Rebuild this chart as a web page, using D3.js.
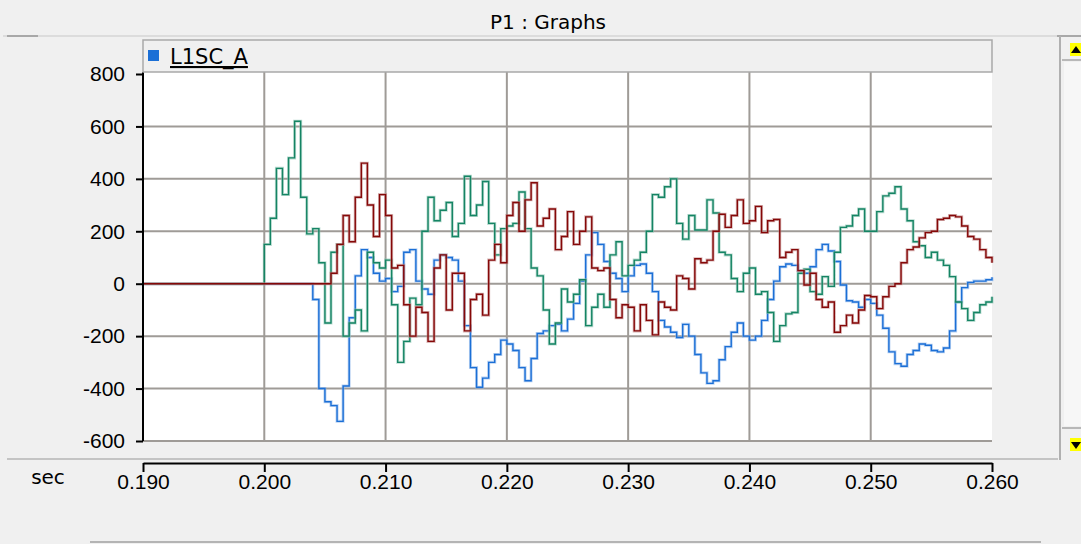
<!DOCTYPE html>
<html>
<head>
<meta charset="utf-8">
<script src="https://cdn.jsdelivr.net/npm/d3@7"></script>
<style>
  body { margin: 0; background: #f0f0f0; }
  svg { display: block; font-family: "DejaVu Sans", sans-serif; }
  .axis text { font-size: 21px; fill: #000; }
  .axis path, .axis line { stroke: #000; stroke-width: 2; }
</style>
</head>
<body>
<svg id="chart" width="1081" height="544"></svg>
<script>
// sample grid of the recorded waveforms (sec)
const flatStart = 0.190;
const t0 = 0.200, dt = 0.0005;

const xTicks = [0.190, 0.200, 0.210, 0.220, 0.230, 0.240, 0.250, 0.260];
const yTicks = [800, 600, 400, 200, 0, -200, -400, -600];
const legendLabel = "L1SC_A";

// blue trace (L1SC_A)
const phaseA = [0, 0, 0, 0, 0, 0, 0, 0,
  -60, -400, -450, -465, -525, -390, -130, 30, 130, 100, 40, 10,
  20, -30, -10, 120, 130, 10, -20, -40, 90, 110,
  100, 90, 10, -160, -320, -395, -360, -300, -270, -215,
  -230, -255, -320, -370, -285, -190, -180, -160, -155, -180,
  -135, -75, 10, 110, 195, 150, 85, 40, 20, -30,
  30, 70, 75, 40, -30, -140, -165, -185, -205, -155,
  -200, -270, -340, -380, -370, -290, -240, -185, -150, -200,
  -215, -200, -140, -60, 10, 65, 75, 70, 50, 40,
  65, 130, 150, 125, 85, -5, -65, -70, -90, -60,
  -75, -120, -170, -260, -305, -315, -270, -255, -230, -235,
  -255, -260, -245, -180, -70, -15, 5, 10, 10, 15, 25];

// green trace
const phaseB = [150, 250, 440, 340, 480, 620, 330, 190, 210, 80,
  -150, 120, 150, -200, -150, -100, -180, 120, 80, 60,
  90, -80, -300, -220, -55, -80, 200, 330, 240, 280,
  310, 180, 230, 410, 260, 300, 390, 230, 110, 210,
  220, 230, 350, 210, 60, 30, -100, -230, -150, -20,
  -70, -40, 15, -160, -90, -40, -90, 110, 160, 30,
  70, 90, 120, 200, 340, 330, 370, 400, 230, 170,
  260, 205, 205, 320, 270, 120, 110, 20, -30, 40,
  60, -40, -30, -110, -220, -160, -115, -110, 40, 55,
  -30, -40, 27, -10, 120, 215, 220, 260, 285, 200,
  200, 275, 335, 345, 370, 285, 240, 160, 145, 100,
  120, 90, 70, 27, -70, -95, -140, -110, -80, -70, -50];

// red trace
const phaseC = [0, 0, 0, 0, 0, 0, 0, 0, 0, 0, 0, 40,
  150, 260, 160, 330, 460, 300, 180, 340,
  260, 60, 70, -80, -200, -90, -110, -220, 60, 110,
  -100, 40, 40, -180, -60, -40, -120, 90, 150, 80,
  260, 310, 200, 320, 385, 220, 250, 285, 130, 180,
  275, 150, 200, 255, 60, 50, 60, -60, -130, -80,
  -90, -180, -80, -140, -195, -70, -90, -100, 30, 20,
  -20, 95, 80, 90, 200, 265, 215, 260, 320, 230,
  240, 295, 195, 240, 245, 100, 120, 130, 50, -5,
  40, -60, -90, -70, -185, -160, -120, -150, -100, -45,
  -50, -95, -50, -10, 0, 80, 130, 140, 175, 195,
  200, 245, 250, 260, 255, 220, 180, 170, 130, 100, 80];

var svg = d3.select("#chart");

var xScale = d3.scaleLinear().domain([0.190, 0.260]).range([143, 992]),
    yScale = d3.scaleLinear().domain([800, -600]).range([74, 441]);

drawFrame();
drawGrid();
drawSeries(phaseA, "#1b6fd6", "#8db6ea");
drawSeries(phaseB, "#158464", "#8cc4b2");
drawSeries(phaseC, "#850808", "#c08686");
drawYAxis();
drawXAxis();
drawLegend();
drawScrollbar();

function toPoints(values) {
    var pts = [{t: flatStart, v: 0}];
    values.forEach(function(v, i) { pts.push({t: t0 + i * dt, v: v}); });
    return pts;
}

function drawFrame() {
    // title bar
    svg.append("text")
        .attr("x", 548).attr("y", 29)
        .attr("text-anchor", "middle")
        .style("font-size", "20px")
        .text("P1 : Graphs");
    svg.append("line").attr("x1", 3).attr("x2", 1081).attr("y1", 36).attr("y2", 36)
        .style("stroke", "#dcdcdc").style("stroke-width", 2);
    svg.append("line").attr("x1", 7).attr("x2", 38).attr("y1", 36).attr("y2", 36)
        .style("stroke", "#a8a8a8").style("stroke-width", 2);
    svg.append("line").attr("x1", 1057).attr("x2", 1081).attr("y1", 36).attr("y2", 36)
        .style("stroke", "#a8a8a8").style("stroke-width", 2);

    // plot area
    svg.append("rect")
        .attr("x", xScale(0.190)).attr("y", 72)
        .attr("width", xScale(0.260) - xScale(0.190))
        .attr("height", yScale(-600) - 72)
        .style("fill", "#fff");

    // separators below the plot
    svg.append("line").attr("x1", 7).attr("x2", 1058).attr("y1", 459).attr("y2", 459)
        .style("stroke", "#c4c4c4").style("stroke-width", 2);
    svg.append("line").attr("x1", 90).attr("x2", 1041).attr("y1", 542).attr("y2", 542)
        .style("stroke", "#b4b4b4").style("stroke-width", 2);
}

function drawGrid() {
    var g = svg.append("g").attr("class", "grid");
    g.selectAll(".hgrid")
        .data(yTicks.filter(d => d < 800))
        .enter().append("line")
        .attr("class", "hgrid")
        .attr("x1", xScale(0.190)).attr("x2", xScale(0.260))
        .attr("y1", d => yScale(d)).attr("y2", d => yScale(d))
        .style("stroke", "#9f9b97").style("stroke-width", 2);
    g.selectAll(".vgrid")
        .data(xTicks.filter(d => d > 0.1905 && d < 0.2595))
        .enter().append("line")
        .attr("class", "vgrid")
        .attr("x1", d => xScale(d)).attr("x2", d => xScale(d))
        .attr("y1", 72).attr("y2", yScale(-600))
        .style("stroke", "#9f9b97").style("stroke-width", 2);
}

function drawSeries(values, color, halo) {
    var line = d3.line()
        .x(d => xScale(d.t))
        .y(d => yScale(d.v))
        .curve(d3.curveStepAfter);
    var pts = toPoints(values);
    svg.append("path").datum(pts)
        .attr("d", line)
        .style("fill", "none").style("stroke", halo)
        .style("stroke-width", 3).style("opacity", 0.6);
    svg.append("path").datum(pts)
        .attr("d", line)
        .style("fill", "none").style("stroke", color)
        .style("stroke-width", 1.4);
}

function drawYAxis() {
    var yAxis = d3.axisLeft(yScale).tickValues(yTicks).tickSize(7).tickPadding(11)
        .tickFormat(d => String(d)).tickSizeOuter(0);
    svg.append("g")
        .attr("class", "y axis")
        .attr("transform", "translate(" + xScale(0.190) + ",0)")
        .call(yAxis)
        .select(".domain").attr("d", "M0,72V" + yScale(-600));
}

function drawXAxis() {
    var xAxis = d3.axisBottom(xScale).tickValues(xTicks).tickSize(9).tickPadding(2)
        .tickFormat(d3.format(".3f")).tickSizeOuter(0);
    svg.append("g")
        .attr("class", "x axis")
        .attr("transform", "translate(0,463)")
        .call(xAxis);
    svg.append("text")
        .attr("x", 48).attr("y", 484)
        .attr("text-anchor", "middle")
        .style("font-size", "20px")
        .text("sec");
}

function drawLegend() {
    svg.append("rect")
        .attr("x", 143).attr("y", 40).attr("width", 849).attr("height", 32)
        .style("fill", "#f0f0f0").style("stroke", "#a9a9a9").style("stroke-width", 1.5);
    svg.append("rect")
        .attr("x", 148).attr("y", 50).attr("width", 11).attr("height", 11)
        .style("fill", "#1b6fd6");
    svg.append("text")
        .attr("x", 170).attr("y", 64)
        .style("font-size", "21px")
        .style("text-decoration", "underline")
        .text(legendLabel);
}

function drawScrollbar() {
    svg.append("line").attr("x1", 1060).attr("x2", 1060).attr("y1", 36).attr("y2", 460)
        .style("stroke", "#b0b0b0").style("stroke-width", 2);
    svg.append("line").attr("x1", 1062).attr("x2", 1081).attr("y1", 60).attr("y2", 60)
        .style("stroke", "#b8b8b8").style("stroke-width", 2);
    svg.append("line").attr("x1", 1062).attr("x2", 1081).attr("y1", 428).attr("y2", 428)
        .style("stroke", "#b8b8b8").style("stroke-width", 2);
    svg.append("rect").attr("x", 1064).attr("y", 62).attr("width", 17).attr("height", 364)
        .style("fill", "#f7f7f7");
    // arrow buttons
    svg.append("rect").attr("x", 1070).attr("y", 43).attr("width", 11).attr("height", 13)
        .style("fill", "#ffff00");
    svg.append("path").attr("d", "M1071,53L1076,46L1081,53Z").style("fill", "#000");
    svg.append("rect").attr("x", 1070).attr("y", 438).attr("width", 11).attr("height", 13)
        .style("fill", "#ffff00");
    svg.append("path").attr("d", "M1071,442L1081,442L1076,449Z").style("fill", "#000");
}
</script>
</body>
</html>
